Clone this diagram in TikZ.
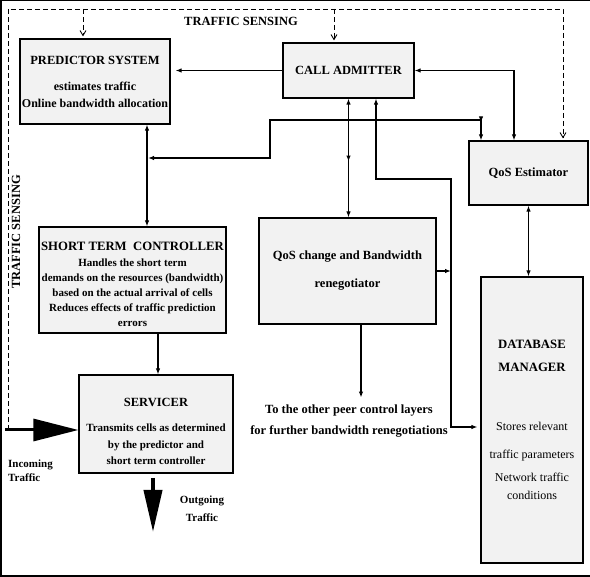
\documentclass[tikz,border=0pt]{standalone}
\usepackage{fontspec}
\setmainfont{Liberation Serif}
\usetikzlibrary{arrows.meta,positioning,calc,decorations.markings}
\definecolor{blockGray}{RGB}{242,242,242}

\begin{document}
\begin{tikzpicture}[x=1pt,y=-1pt,
  block/.style={draw,line width=1.2pt,fill=blockGray,inner sep=0pt,align=center},
  link/.style={line width=1.2pt,-{Latex[length=6pt,width=4.5pt]}},
  dlink/.style={line width=1.2pt,{Latex[length=6pt,width=4.5pt]}-{Latex[length=6pt,width=4.5pt]}},
  sense/.style={line width=0.9pt,dash pattern=on 5pt off 3pt,-{Straight Barb[length=5pt,width=6pt]},shorten >=2pt},
  midtip/.style={postaction={decorate},decoration={markings,mark=at position #1 with {\arrow{Latex[length=6pt,width=4.5pt]}}}},
  backtip/.style={postaction={decorate},decoration={markings,mark=at position #1 with {\arrowreversed{Latex[length=6pt,width=4.5pt]}}}},
  bigarrow/.style={line width=3pt,-{Triangle[length=45pt,width=22pt]}}]
  \useasboundingbox (0,0) rectangle (590,577);
  % frame
  \draw[line width=1.5pt] (590,0.75) -- (0.75,0.75) -- (0.75,576) -- (590,576);

  % blocks
  \node[block,minimum width=150pt,minimum height=85pt,font=\bfseries\fontsize{12}{17}\selectfont] (pred) at (95,81.5)
    {{\fontsize{12.5}{17}\selectfont PREDICTOR SYSTEM}\\[9pt] estimates traffic\\ Online bandwidth allocation};
  \node[block,minimum width=131pt,minimum height=55pt,font=\bfseries\fontsize{12.5}{15}\selectfont] (admit) at (348.5,70.5) {CALL ADMITTER};
  \node[block,minimum width=119pt,minimum height=64pt,font=\bfseries\fontsize{12.5}{15}\selectfont] (qosest) at (528.5,173) {QoS Estimator};
  \node[block,minimum width=187pt,minimum height=106pt,font=\bfseries\fontsize{11}{15}\selectfont] (stc) at (132.5,280)
    {\rule{0pt}{17.5pt}{\fontsize{12.75}{15}\selectfont SHORT TERM\ \ CONTROLLER}\\[1pt] Handles the short term\\ demands on the resources (bandwidth)\\
     based on the actual arrival of cells\\ Reduces effects of traffic prediction\\ errors};
  \node[block,minimum width=177pt,minimum height=106pt,font=\bfseries\fontsize{12.5}{28}\selectfont] (reneg) at (347.5,271)
    {QoS change and Bandwidth\\ renegotiator};
  \node[block,minimum width=102pt,minimum height=286pt,font=\fontsize{12}{18}\selectfont] (dbm) at (532,420)
    {{\bfseries\fontsize{12.75}{18}\selectfont DATABASE}\\[5pt] {\bfseries\fontsize{12.75}{18}\selectfont MANAGER}\\[40.5pt]
     Stores relevant\\[10pt] traffic parameters\\[5pt] Network traffic\\ conditions};
  \node[block,minimum width=154pt,minimum height=98pt,font=\bfseries\fontsize{11}{16.5}\selectfont] (serv) at (156,424)
    {\rule{0pt}{23.5pt}{\fontsize{12.5}{16.5}\selectfont SERVICER}\\[9pt] Transmits cells as determined\\ by the predictor and\\ short term controller};

  % free labels
  \node[font=\bfseries\fontsize{12.5}{14}\selectfont] (senseTop) at (241,21) {TRAFFIC SENSING};
  \node[font=\bfseries\fontsize{12.5}{14}\selectfont,rotate=90] (senseLeft) at (16,232) {TRAFFIC SENSING};
  \node[font=\bfseries\fontsize{12.5}{21}\selectfont,align=center,inner sep=0pt] (peer) at (349,421)
    {To the other peer control layers\\ for further bandwidth renegotiations};
  \node[font=\bfseries\fontsize{11}{14}\selectfont,align=left,inner sep=0pt,anchor=north west] (inLbl) at (8,459.5) {Incoming\\ Traffic};
  \node[font=\bfseries\fontsize{11}{18}\selectfont,align=center,inner sep=0pt] (outLbl) at (202,509) {Outgoing\\ Traffic};

  \coordinate (senseIn) at (8,430);
  \coordinate (inStart) at (5,430);
  \coordinate (senseTR) at (563,9);
  \coordinate (tap) at (148,158);
  \coordinate (outTop) at (153,478);
  \coordinate (outTip) at (153,532);

  % connectors
  \draw[link,shorten >=5pt] (admit.west) -- (admit.west -| pred.east);
  \draw[dlink] ([xshift=52pt]pred.south) -- ([xshift=52pt]pred.south |- stc.north);
  \draw[dlink,backtip=18pt] ([xshift=-47.5pt]qosest.north) |- (270,120) |- (tap);
  \draw[dlink] (admit.east) -| ([xshift=-14.5pt]qosest.north);
  \draw[dlink,midtip=0.53] (admit.south) -- (admit.south |- reneg.north);
  \draw[dlink,shorten >=3pt] ([xshift=27.5pt]admit.south) |- (451,179) |- ([yshift=-7pt]dbm.west);
  \draw[link] (reneg.east) -- (reneg.east -| 451,0);
  \draw[dlink] (qosest.south) -- (qosest.south |- dbm.north);
  \draw[link] ([xshift=25.5pt]stc.south) -- ([xshift=25.5pt]stc.south |- serv.north);
  \draw[link,shorten >=7pt] ([xshift=13.5pt]reneg.south) -- ([xshift=13.5pt]reneg.south |- peer.north);
  \draw[bigarrow] (inStart) -- (inStart -| serv.west);
  \draw[line width=4pt,-{Triangle[length=42pt,width=18pt]}] (outTop) -- (outTip);

  % traffic sensing
  \draw[sense] (senseIn) |- (senseTR) -- (senseTR |- qosest.north);
  \draw[sense] ([xshift=-12pt]pred.north |- senseTR) -- ([xshift=-12pt]pred.north);
  \draw[sense] ([xshift=-14.5pt]admit.north |- senseTR) -- ([xshift=-14.5pt]admit.north);
\end{tikzpicture}
\end{document}
